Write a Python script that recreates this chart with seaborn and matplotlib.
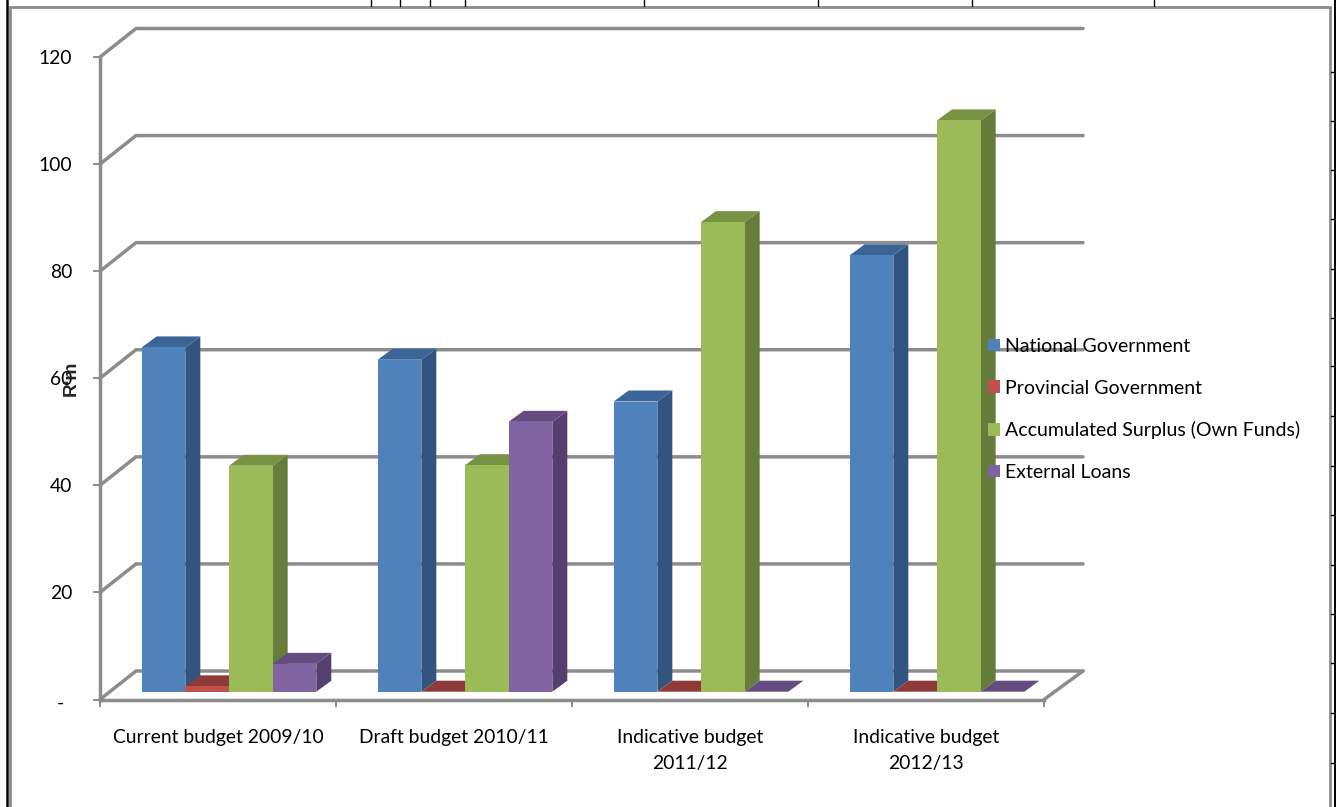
import matplotlib
matplotlib.use("Agg")
import matplotlib.pyplot as plt
from matplotlib.patches import Polygon
from matplotlib.transforms import ScaledTranslation
import pandas as pd
import seaborn as sns

# ---------- data ----------
categories = ["Current budget 2009/10", "Draft budget 2010/11",
              "Indicative budget\n2011/12", "Indicative budget\n2012/13"]
national = [64.3, 62.0, 54.2, 81.5]
provincial = [1.0, 0.0, 0.0, 0.0]
surplus = [42.2, 42.3, 87.7, 106.7]
loans = [5.2, 50.4, 0.0, 0.0]
series_names = ["National Government", "Provincial Government",
                "Accumulated Surplus (Own Funds)", "External Loans"]
y_ticks = [0, 20, 40, 60, 80, 100, 120]
y_tick_labels = ["-", "20", "40", "60", "80", "100", "120"]
y_title = "R'm"

# ---------- style ----------
front_colors = ["#4f81bd", "#c0504d", "#9bbb59", "#8064a2"]
side_colors = ["#32557f", "#7f3533", "#667c3a", "#553f6f"]
top_colors = ["#3a6596", "#8e3a38", "#789244", "#644c80"]
GREY = "#8c8c8c"
W, H = 1336, 807
FS = 13.85
LEGEND_FS = 14.05

sns.set_theme(style="white")
plt.rcParams["font.family"] = ["Lato", "DejaVu Sans"]
plt.rcParams["text.color"] = "black"
plt.rcParams["xtick.color"] = "black"
plt.rcParams["ytick.color"] = "black"

fig = plt.figure(figsize=(W / 100, H / 100), dpi=100, facecolor="white")


def box(x0, x1, y_top, y_bottom):
    return [x0 / W, 1 - y_bottom / H, (x1 - x0) / W, (y_bottom - y_top) / H]


# ---------- page frame (table rules behind the chart) ----------
page = fig.add_axes([0, 0, 1, 1], zorder=0)
page.set_xlim(0, W)
page.set_ylim(H, 0)
page.axis("off")
top_rule_x = [370.5, 400, 430, 464.5, 644, 818, 972, 1154]
right_rule_y = [72, 121, 170, 219, 269, 318, 366, 416, 466, 515, 565, 614, 663, 713, 763]
page.plot([9.5, 9.5, 1329.5, 1329.5], [H, 6.5, 6.5, H], color=GREY, lw=2.0, solid_joinstyle="miter")
page.plot([6.5, 6.5], [0, H], color="black", lw=1.8)
page.plot([1335, 1335], [0, H], color="black", lw=1.4)
for x in top_rule_x:
    page.plot([x, x], [0, 6], color="black", lw=1.0)
for y in right_rule_y:
    page.plot([1331, 1335], [y, y], color="black", lw=1.0)

# ---------- walls, axes, ticks ----------
wall = fig.add_axes(box(100, 1044, 57, 699.5), zorder=1)
wall.patch.set_alpha(0)
wall.set_xlim(-0.5, 3.5)
wall.set_ylim(0, 120)
px_x = 4 / 944
px_y = 120 / 642.5
back_dx, back_dy = 36 * px_x, 28.5 * px_y
end_x = 3.5 + 39 * px_x
for v in y_ticks:
    wall.plot([-0.5, -0.5 + back_dx, end_x], [v, v + back_dy, v + back_dy],
              color=GREY, lw=2.5, clip_on=False, solid_joinstyle="miter", zorder=1)
wall.plot([3.5, end_x], [0, back_dy], color=GREY, lw=2.5, clip_on=False, zorder=1)

for name in ("top", "right"):
    wall.spines[name].set_visible(False)
for name in ("left", "bottom"):
    wall.spines[name].set_color(GREY)
    wall.spines[name].set_linewidth(2.5)
wall.set_yticks(y_ticks)
wall.set_yticklabels(y_tick_labels, fontsize=FS)
wall.tick_params(axis="y", which="major", length=5, width=1.4, color=GREY, pad=15, left=True)
wall.set_xticks(range(len(categories)))
wall.set_xticklabels(categories, fontsize=FS, linespacing=1.65, va="top")
wall.set_xticks([-0.5, 0.5, 1.5, 2.5, 3.5], minor=True)
wall.tick_params(axis="x", which="major", length=0, pad=21)
wall.tick_params(axis="x", which="minor", length=5, width=1.4, color=GREY, bottom=True)
wall.set_ylabel(y_title, fontsize=FS, fontweight="bold", family="Liberation Sans", labelpad=0)
wall.yaxis.set_label_coords(-20 / 944, (699.5 - 378) / 642.5)

# the "-" label of the zero tick sits further left than the numbers
zero_label = wall.get_yticklabels()[0]
zero_label.set_transform(zero_label.get_transform()
                         + ScaledTranslation(-8 / 100, -2 / 100, fig.dpi_scale_trans))

# ---------- bars ----------
df = pd.DataFrame({
    "category": categories,
    series_names[0]: national,
    series_names[1]: provincial,
    series_names[2]: surplus,
    series_names[3]: loans,
}).melt(id_vars="category", var_name="series", value_name="value")

bars = fig.add_axes(box(111, 1055, 49.2, 691.7), zorder=2)
bars.patch.set_alpha(0)
sns.barplot(data=df, x="category", y="value", hue="series", order=categories,
            hue_order=series_names, palette=front_colors, width=0.74, saturation=1,
            linewidth=0, errorbar=None, ax=bars)
bars.set_xlim(-0.5, 3.5)
bars.set_ylim(0, 120)
bars.axis("off")

dx, dy = 15 * px_x, 11 * px_y
for s, container in enumerate(bars.containers):
    for patch in container:
        x0, w, h = patch.get_x(), patch.get_width(), patch.get_height()
        x1 = x0 + w
        order = 2 + 0.1 * (s + 4 * round(x0 + w / 2))
        patch.set_zorder(order + 0.05)
        patch.set_clip_on(False)
        if h > 0:
            bars.add_patch(Polygon([(x1, 0), (x1 + dx, dy), (x1 + dx, h + dy), (x1, h)],
                                   closed=True, facecolor=side_colors[s], edgecolor="none",
                                   zorder=order, clip_on=False))
        bars.add_patch(Polygon([(x0, h), (x0 + dx, h + dy), (x1 + dx, h + dy), (x1, h)],
                               closed=True, facecolor=top_colors[s], edgecolor="none",
                               zorder=order + 0.01, clip_on=False))

handles, labels = bars.get_legend_handles_labels()
old = bars.get_legend()
if old is not None:
    old.remove()
leg = fig.legend(handles, labels, loc="upper left",
                 bbox_to_anchor=(988 / W, 1 - 338 / H), bbox_transform=fig.transFigure,
                 frameon=False, fontsize=LEGEND_FS, borderpad=0, borderaxespad=0,
                 handlelength=0.62, handleheight=0.62, handletextpad=0.27, labelspacing=1.26)
leg.set_zorder(20)

fig.savefig("out.png", dpi=100)
